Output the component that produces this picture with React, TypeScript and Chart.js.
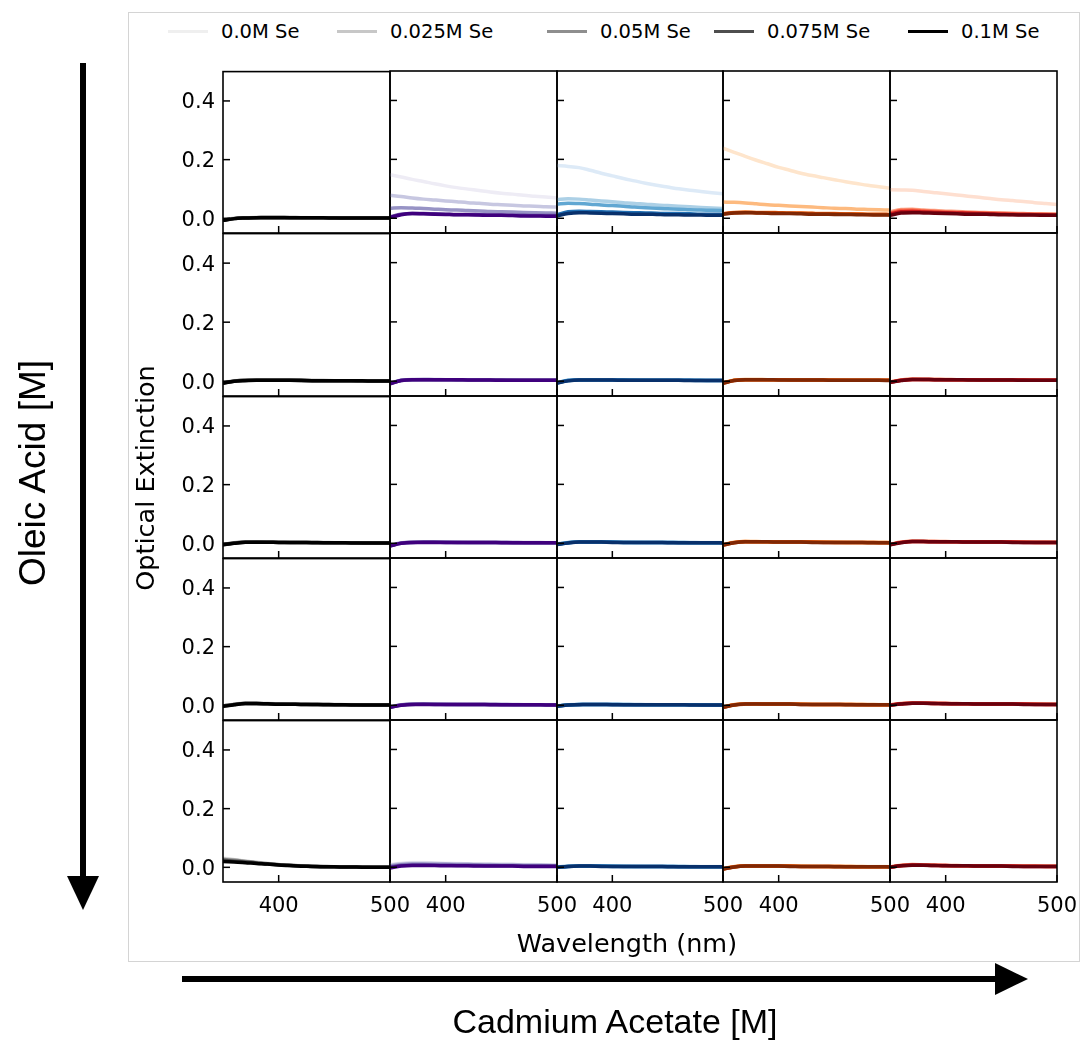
import React, { useEffect, useRef } from 'react';
import { Chart, registerables } from 'chart.js';

Chart.register(...registerables);

// ---------------- data ----------------
const wavelengths = [350, 360, 370, 380, 390, 400, 410, 420, 430, 440, 450, 460, 470, 480, 490, 500];
const seLabels = ['0.0M Se', '0.025M Se', '0.05M Se', '0.075M Se', '0.1M Se'];
const xTicks = [400, 500];
const yTicks = [0, 0.2, 0.4];
const xRange = [350, 500];
const yRange = [-0.05, 0.5];
const columnColormaps = ['Greys', 'Purples', 'Blues', 'Oranges', 'Reds'];
const cmapLevels = [0.13, 0.33, 0.53, 0.76, 1.0];

// Row 1
const r1c1 = [
  [-0.005, 0.000, 0.002, 0.003, 0.003, 0.003, 0.003, 0.003, 0.002, 0.002, 0.002, 0.002, 0.002, 0.001, 0.001, 0.001],
  [-0.006, 0.000, 0.002, 0.003, 0.003, 0.003, 0.002, 0.002, 0.002, 0.002, 0.002, 0.002, 0.001, 0.001, 0.001, 0.001],
  [-0.006, -0.001, 0.002, 0.002, 0.003, 0.003, 0.003, 0.002, 0.002, 0.002, 0.002, 0.001, 0.001, 0.001, 0.001, 0.001],
  [-0.007, -0.001, 0.001, 0.002, 0.003, 0.003, 0.002, 0.002, 0.002, 0.002, 0.002, 0.001, 0.001, 0.001, 0.001, 0.001],
  [-0.007, -0.001, 0.001, 0.002, 0.002, 0.002, 0.002, 0.002, 0.002, 0.002, 0.001, 0.001, 0.001, 0.001, 0.001, 0.001],
];
const r1c2 = [
  [0.148, 0.140, 0.132, 0.125, 0.117, 0.110, 0.104, 0.099, 0.094, 0.089, 0.085, 0.082, 0.078, 0.075, 0.072, 0.069],
  [0.078, 0.074, 0.069, 0.065, 0.062, 0.059, 0.056, 0.053, 0.051, 0.048, 0.046, 0.044, 0.042, 0.041, 0.039, 0.038],
  [0.034, 0.036, 0.035, 0.033, 0.031, 0.029, 0.028, 0.026, 0.025, 0.023, 0.022, 0.021, 0.020, 0.019, 0.018, 0.017],
  [0.005, 0.014, 0.016, 0.016, 0.015, 0.014, 0.013, 0.013, 0.012, 0.011, 0.011, 0.010, 0.010, 0.009, 0.009, 0.009],
  [0.003, 0.012, 0.016, 0.015, 0.014, 0.013, 0.012, 0.012, 0.011, 0.010, 0.010, 0.009, 0.008, 0.008, 0.007, 0.007],
];
const r1c3 = [
  [0.179, 0.176, 0.172, 0.163, 0.153, 0.144, 0.135, 0.127, 0.119, 0.112, 0.106, 0.100, 0.095, 0.091, 0.087, 0.083],
  [0.064, 0.066, 0.065, 0.062, 0.059, 0.056, 0.053, 0.050, 0.048, 0.045, 0.043, 0.041, 0.039, 0.037, 0.035, 0.033],
  [0.048, 0.051, 0.050, 0.048, 0.045, 0.043, 0.041, 0.038, 0.036, 0.034, 0.032, 0.031, 0.029, 0.028, 0.027, 0.026],
  [0.012, 0.022, 0.024, 0.023, 0.022, 0.021, 0.020, 0.019, 0.018, 0.017, 0.016, 0.016, 0.015, 0.014, 0.014, 0.013],
  [0.008, 0.016, 0.019, 0.018, 0.017, 0.016, 0.015, 0.014, 0.014, 0.013, 0.012, 0.012, 0.011, 0.011, 0.010, 0.010],
];
const r1c4 = [
  [0.238, 0.224, 0.210, 0.197, 0.185, 0.173, 0.163, 0.153, 0.145, 0.138, 0.131, 0.124, 0.118, 0.112, 0.107, 0.102],
  [0.055, 0.054, 0.052, 0.049, 0.046, 0.044, 0.042, 0.040, 0.038, 0.036, 0.034, 0.033, 0.031, 0.030, 0.029, 0.028],
  [0.016, 0.020, 0.021, 0.020, 0.020, 0.019, 0.018, 0.018, 0.017, 0.016, 0.016, 0.015, 0.015, 0.014, 0.014, 0.013],
  [0.015, 0.019, 0.020, 0.019, 0.019, 0.018, 0.017, 0.017, 0.016, 0.015, 0.015, 0.014, 0.014, 0.013, 0.013, 0.012],
  [0.014, 0.018, 0.019, 0.018, 0.017, 0.016, 0.016, 0.015, 0.014, 0.014, 0.013, 0.013, 0.012, 0.012, 0.011, 0.011],
];
const r1c5 = [
  [0.097, 0.096, 0.095, 0.091, 0.087, 0.083, 0.079, 0.075, 0.071, 0.067, 0.063, 0.060, 0.057, 0.053, 0.050, 0.047],
  [0.022, 0.030, 0.031, 0.028, 0.026, 0.024, 0.023, 0.021, 0.020, 0.019, 0.018, 0.017, 0.016, 0.015, 0.015, 0.014],
  [0.018, 0.026, 0.027, 0.025, 0.023, 0.021, 0.020, 0.019, 0.018, 0.017, 0.016, 0.015, 0.014, 0.014, 0.013, 0.013],
  [0.014, 0.022, 0.023, 0.021, 0.020, 0.019, 0.018, 0.017, 0.016, 0.015, 0.014, 0.013, 0.013, 0.012, 0.012, 0.011],
  [0.010, 0.018, 0.019, 0.018, 0.017, 0.016, 0.015, 0.014, 0.014, 0.013, 0.012, 0.012, 0.011, 0.011, 0.010, 0.010],
];

// Row 2
const r2c1 = [
  [-0.004, 0.002, 0.003, 0.003, 0.003, 0.003, 0.003, 0.003, 0.003, 0.002, 0.002, 0.002, 0.002, 0.002, 0.002, 0.002],
  [-0.005, 0.001, 0.003, 0.004, 0.004, 0.003, 0.003, 0.003, 0.003, 0.003, 0.002, 0.002, 0.002, 0.002, 0.002, 0.002],
  [-0.006, 0.001, 0.003, 0.003, 0.003, 0.003, 0.003, 0.003, 0.002, 0.002, 0.002, 0.002, 0.002, 0.001, 0.001, 0.001],
  [-0.006, 0.000, 0.003, 0.003, 0.003, 0.003, 0.003, 0.002, 0.002, 0.002, 0.002, 0.002, 0.001, 0.001, 0.001, 0.001],
  [-0.007, 0.000, 0.002, 0.003, 0.003, 0.003, 0.003, 0.003, 0.002, 0.002, 0.002, 0.002, 0.002, 0.001, 0.001, 0.001],
];
const r2c2 = [
  [-0.006, 0.004, 0.006, 0.006, 0.005, 0.005, 0.005, 0.005, 0.005, 0.004, 0.004, 0.004, 0.004, 0.004, 0.004, 0.004],
  [-0.007, 0.003, 0.006, 0.006, 0.006, 0.005, 0.005, 0.005, 0.004, 0.004, 0.004, 0.004, 0.004, 0.003, 0.003, 0.003],
  [-0.008, 0.003, 0.005, 0.006, 0.005, 0.005, 0.005, 0.004, 0.004, 0.004, 0.004, 0.004, 0.003, 0.003, 0.003, 0.003],
  [-0.008, 0.002, 0.005, 0.005, 0.005, 0.005, 0.004, 0.004, 0.004, 0.004, 0.004, 0.003, 0.003, 0.003, 0.003, 0.003],
  [-0.009, 0.002, 0.005, 0.005, 0.005, 0.005, 0.005, 0.004, 0.004, 0.004, 0.003, 0.003, 0.003, 0.003, 0.003, 0.003],
];
const r2c3 = [
  [-0.004, 0.003, 0.005, 0.005, 0.005, 0.004, 0.004, 0.004, 0.004, 0.004, 0.004, 0.003, 0.003, 0.003, 0.003, 0.003],
  [-0.005, 0.003, 0.005, 0.005, 0.004, 0.004, 0.004, 0.004, 0.004, 0.003, 0.003, 0.003, 0.003, 0.003, 0.003, 0.003],
  [-0.005, 0.002, 0.004, 0.005, 0.004, 0.004, 0.004, 0.004, 0.003, 0.003, 0.003, 0.003, 0.003, 0.003, 0.002, 0.002],
  [-0.006, 0.002, 0.004, 0.004, 0.004, 0.004, 0.004, 0.003, 0.003, 0.003, 0.003, 0.003, 0.003, 0.002, 0.002, 0.002],
  [-0.006, 0.001, 0.004, 0.004, 0.004, 0.004, 0.003, 0.003, 0.003, 0.003, 0.003, 0.003, 0.002, 0.002, 0.002, 0.002],
];
const r2c4 = [
  [-0.005, 0.004, 0.006, 0.006, 0.005, 0.005, 0.005, 0.005, 0.004, 0.004, 0.004, 0.004, 0.004, 0.004, 0.003, 0.003],
  [-0.006, 0.003, 0.006, 0.006, 0.005, 0.005, 0.005, 0.005, 0.004, 0.004, 0.004, 0.004, 0.003, 0.003, 0.003, 0.003],
  [-0.006, 0.003, 0.005, 0.005, 0.005, 0.005, 0.005, 0.004, 0.004, 0.004, 0.004, 0.003, 0.003, 0.003, 0.003, 0.003],
  [-0.007, 0.002, 0.005, 0.005, 0.005, 0.005, 0.004, 0.004, 0.004, 0.004, 0.003, 0.003, 0.003, 0.003, 0.003, 0.003],
  [-0.007, 0.002, 0.005, 0.005, 0.005, 0.004, 0.004, 0.004, 0.004, 0.004, 0.003, 0.003, 0.003, 0.003, 0.003, 0.002],
];
const r2c5 = [
  [-0.002, 0.004, 0.007, 0.007, 0.006, 0.006, 0.005, 0.005, 0.005, 0.005, 0.005, 0.004, 0.004, 0.004, 0.004, 0.004],
  [-0.003, 0.004, 0.007, 0.006, 0.006, 0.006, 0.005, 0.005, 0.005, 0.005, 0.004, 0.004, 0.004, 0.004, 0.004, 0.004],
  [-0.003, 0.003, 0.006, 0.006, 0.006, 0.005, 0.005, 0.005, 0.005, 0.004, 0.004, 0.004, 0.004, 0.004, 0.003, 0.003],
  [-0.004, 0.003, 0.006, 0.006, 0.005, 0.005, 0.005, 0.005, 0.004, 0.004, 0.004, 0.004, 0.004, 0.003, 0.003, 0.003],
  [-0.004, 0.002, 0.006, 0.006, 0.005, 0.005, 0.005, 0.004, 0.004, 0.004, 0.004, 0.004, 0.003, 0.003, 0.003, 0.003],
];

// Row 3
const r3c1 = [
  [-0.003, 0.002, 0.005, 0.005, 0.004, 0.004, 0.004, 0.003, 0.003, 0.003, 0.003, 0.002, 0.002, 0.002, 0.002, 0.002],
  [-0.004, 0.002, 0.005, 0.005, 0.004, 0.004, 0.003, 0.003, 0.003, 0.003, 0.002, 0.002, 0.002, 0.002, 0.002, 0.001],
  [-0.004, 0.001, 0.004, 0.005, 0.004, 0.004, 0.003, 0.003, 0.003, 0.002, 0.002, 0.002, 0.002, 0.002, 0.001, 0.001],
  [-0.005, 0.001, 0.004, 0.004, 0.004, 0.003, 0.003, 0.003, 0.003, 0.002, 0.002, 0.002, 0.002, 0.001, 0.001, 0.001],
  [-0.005, 0.000, 0.004, 0.004, 0.004, 0.003, 0.003, 0.003, 0.002, 0.002, 0.002, 0.002, 0.001, 0.001, 0.001, 0.001],
];
const r3c2 = [
  [-0.007, 0.002, 0.004, 0.004, 0.004, 0.004, 0.004, 0.004, 0.004, 0.003, 0.003, 0.003, 0.003, 0.003, 0.003, 0.003],
  [-0.008, 0.001, 0.004, 0.004, 0.004, 0.004, 0.004, 0.003, 0.003, 0.003, 0.003, 0.003, 0.003, 0.003, 0.002, 0.002],
  [-0.008, 0.001, 0.003, 0.004, 0.004, 0.004, 0.003, 0.003, 0.003, 0.003, 0.003, 0.003, 0.002, 0.002, 0.002, 0.002],
  [-0.009, 0.000, 0.003, 0.004, 0.004, 0.003, 0.003, 0.003, 0.003, 0.003, 0.003, 0.002, 0.002, 0.002, 0.002, 0.002],
  [-0.009, 0.000, 0.003, 0.003, 0.003, 0.003, 0.003, 0.003, 0.003, 0.003, 0.002, 0.002, 0.002, 0.002, 0.002, 0.002],
];
const r3c3 = [
  [-0.002, 0.003, 0.005, 0.005, 0.004, 0.004, 0.004, 0.004, 0.003, 0.003, 0.003, 0.003, 0.003, 0.003, 0.003, 0.002],
  [-0.003, 0.003, 0.005, 0.005, 0.004, 0.004, 0.004, 0.003, 0.003, 0.003, 0.003, 0.003, 0.003, 0.002, 0.002, 0.002],
  [-0.003, 0.002, 0.005, 0.004, 0.004, 0.004, 0.003, 0.003, 0.003, 0.003, 0.003, 0.003, 0.002, 0.002, 0.002, 0.002],
  [-0.004, 0.002, 0.004, 0.004, 0.004, 0.004, 0.003, 0.003, 0.003, 0.003, 0.003, 0.002, 0.002, 0.002, 0.002, 0.002],
  [-0.004, 0.001, 0.004, 0.004, 0.004, 0.003, 0.003, 0.003, 0.003, 0.003, 0.002, 0.002, 0.002, 0.002, 0.002, 0.001],
];
const r3c4 = [
  [-0.004, 0.004, 0.006, 0.006, 0.005, 0.005, 0.005, 0.004, 0.004, 0.004, 0.004, 0.004, 0.003, 0.003, 0.003, 0.003],
  [-0.005, 0.003, 0.006, 0.006, 0.005, 0.005, 0.004, 0.004, 0.004, 0.004, 0.004, 0.003, 0.003, 0.003, 0.003, 0.003],
  [-0.005, 0.003, 0.006, 0.005, 0.005, 0.005, 0.004, 0.004, 0.004, 0.004, 0.003, 0.003, 0.003, 0.003, 0.003, 0.002],
  [-0.006, 0.002, 0.005, 0.005, 0.005, 0.004, 0.004, 0.004, 0.004, 0.003, 0.003, 0.003, 0.003, 0.003, 0.002, 0.002],
  [-0.006, 0.002, 0.005, 0.005, 0.005, 0.004, 0.004, 0.004, 0.003, 0.003, 0.003, 0.003, 0.003, 0.002, 0.002, 0.002],
];
const r3c5 = [
  [-0.003, 0.004, 0.007, 0.007, 0.006, 0.006, 0.005, 0.005, 0.005, 0.005, 0.004, 0.004, 0.004, 0.004, 0.004, 0.004],
  [-0.004, 0.004, 0.007, 0.006, 0.006, 0.006, 0.005, 0.005, 0.005, 0.004, 0.004, 0.004, 0.004, 0.004, 0.004, 0.003],
  [-0.004, 0.003, 0.006, 0.006, 0.006, 0.005, 0.005, 0.005, 0.004, 0.004, 0.004, 0.004, 0.004, 0.003, 0.003, 0.003],
  [-0.005, 0.003, 0.006, 0.006, 0.005, 0.005, 0.005, 0.004, 0.004, 0.004, 0.004, 0.004, 0.003, 0.003, 0.003, 0.003],
  [-0.005, 0.002, 0.006, 0.006, 0.005, 0.005, 0.005, 0.004, 0.004, 0.004, 0.004, 0.003, 0.003, 0.003, 0.003, 0.003],
];

// Row 4
const r4c1 = [
  [-0.002, 0.004, 0.007, 0.007, 0.006, 0.005, 0.005, 0.004, 0.004, 0.003, 0.003, 0.003, 0.002, 0.002, 0.002, 0.002],
  [-0.002, 0.004, 0.007, 0.006, 0.006, 0.005, 0.004, 0.004, 0.003, 0.003, 0.003, 0.002, 0.002, 0.002, 0.002, 0.001],
  [-0.003, 0.003, 0.006, 0.006, 0.005, 0.005, 0.004, 0.004, 0.003, 0.003, 0.002, 0.002, 0.002, 0.002, 0.001, 0.001],
  [-0.003, 0.003, 0.006, 0.006, 0.005, 0.004, 0.004, 0.003, 0.003, 0.003, 0.002, 0.002, 0.002, 0.001, 0.001, 0.001],
  [-0.004, 0.002, 0.006, 0.006, 0.005, 0.004, 0.004, 0.003, 0.003, 0.002, 0.002, 0.002, 0.001, 0.001, 0.001, 0.001],
];
const r4c2 = [
  [-0.005, 0.002, 0.004, 0.004, 0.004, 0.004, 0.004, 0.003, 0.003, 0.003, 0.003, 0.003, 0.003, 0.002, 0.002, 0.002],
  [-0.006, 0.002, 0.004, 0.004, 0.004, 0.004, 0.003, 0.003, 0.003, 0.003, 0.003, 0.003, 0.002, 0.002, 0.002, 0.002],
  [-0.006, 0.001, 0.004, 0.004, 0.004, 0.003, 0.003, 0.003, 0.003, 0.003, 0.003, 0.002, 0.002, 0.002, 0.002, 0.002],
  [-0.007, 0.001, 0.003, 0.004, 0.003, 0.003, 0.003, 0.003, 0.003, 0.003, 0.002, 0.002, 0.002, 0.002, 0.002, 0.001],
  [-0.007, 0.000, 0.003, 0.003, 0.003, 0.003, 0.003, 0.003, 0.003, 0.002, 0.002, 0.002, 0.002, 0.002, 0.001, 0.001],
];
const r4c3 = [
  [-0.002, 0.002, 0.003, 0.003, 0.003, 0.003, 0.003, 0.003, 0.003, 0.002, 0.002, 0.002, 0.002, 0.002, 0.002, 0.002],
  [-0.002, 0.002, 0.003, 0.003, 0.003, 0.003, 0.003, 0.003, 0.002, 0.002, 0.002, 0.002, 0.002, 0.002, 0.002, 0.002],
  [-0.003, 0.001, 0.003, 0.003, 0.003, 0.003, 0.003, 0.002, 0.002, 0.002, 0.002, 0.002, 0.002, 0.002, 0.001, 0.001],
  [-0.003, 0.001, 0.003, 0.003, 0.003, 0.003, 0.002, 0.002, 0.002, 0.002, 0.002, 0.002, 0.002, 0.001, 0.001, 0.001],
  [-0.003, 0.001, 0.002, 0.003, 0.003, 0.002, 0.002, 0.002, 0.002, 0.002, 0.002, 0.002, 0.001, 0.001, 0.001, 0.001],
];
const r4c4 = [
  [-0.005, 0.003, 0.005, 0.005, 0.005, 0.004, 0.004, 0.004, 0.004, 0.003, 0.003, 0.003, 0.003, 0.003, 0.003, 0.002],
  [-0.006, 0.002, 0.005, 0.005, 0.005, 0.004, 0.004, 0.004, 0.003, 0.003, 0.003, 0.003, 0.003, 0.003, 0.002, 0.002],
  [-0.006, 0.002, 0.005, 0.005, 0.004, 0.004, 0.004, 0.004, 0.003, 0.003, 0.003, 0.003, 0.003, 0.002, 0.002, 0.002],
  [-0.007, 0.001, 0.004, 0.005, 0.004, 0.004, 0.004, 0.003, 0.003, 0.003, 0.003, 0.003, 0.002, 0.002, 0.002, 0.002],
  [-0.007, 0.001, 0.004, 0.004, 0.004, 0.004, 0.004, 0.003, 0.003, 0.003, 0.003, 0.002, 0.002, 0.002, 0.002, 0.002],
];
const r4c5 = [
  [0.002, 0.006, 0.008, 0.008, 0.007, 0.006, 0.006, 0.005, 0.005, 0.005, 0.005, 0.004, 0.004, 0.004, 0.004, 0.004],
  [0.001, 0.006, 0.008, 0.007, 0.007, 0.006, 0.006, 0.005, 0.005, 0.005, 0.004, 0.004, 0.004, 0.004, 0.004, 0.003],
  [0.001, 0.005, 0.008, 0.007, 0.006, 0.006, 0.005, 0.005, 0.005, 0.004, 0.004, 0.004, 0.004, 0.004, 0.003, 0.003],
  [0.000, 0.005, 0.007, 0.007, 0.006, 0.006, 0.005, 0.005, 0.004, 0.004, 0.004, 0.004, 0.004, 0.003, 0.003, 0.003],
  [0.000, 0.004, 0.007, 0.007, 0.006, 0.005, 0.005, 0.005, 0.004, 0.004, 0.004, 0.004, 0.003, 0.003, 0.003, 0.003],
];

// Row 5
const r5c1 = [
  [0.032, 0.027, 0.022, 0.017, 0.013, 0.010, 0.007, 0.005, 0.004, 0.003, 0.002, 0.002, 0.001, 0.001, 0.001, 0.000],
  [0.030, 0.026, 0.021, 0.017, 0.013, 0.010, 0.007, 0.005, 0.004, 0.003, 0.002, 0.002, 0.001, 0.001, 0.000, 0.000],
  [0.027, 0.024, 0.020, 0.016, 0.012, 0.009, 0.007, 0.005, 0.004, 0.003, 0.002, 0.001, 0.001, 0.001, 0.000, 0.000],
  [0.024, 0.021, 0.018, 0.015, 0.011, 0.009, 0.006, 0.005, 0.003, 0.002, 0.002, 0.001, 0.001, 0.000, 0.000, 0.000],
  [0.020, 0.018, 0.016, 0.013, 0.011, 0.008, 0.006, 0.004, 0.003, 0.002, 0.002, 0.001, 0.001, 0.000, 0.000, 0.000],
];
const r5c2 = [
  [0.009, 0.014, 0.016, 0.016, 0.015, 0.014, 0.013, 0.012, 0.012, 0.011, 0.010, 0.010, 0.009, 0.009, 0.008, 0.008],
  [0.007, 0.012, 0.014, 0.014, 0.013, 0.012, 0.011, 0.011, 0.010, 0.010, 0.009, 0.009, 0.008, 0.008, 0.007, 0.007],
  [0.004, 0.009, 0.011, 0.011, 0.010, 0.010, 0.009, 0.009, 0.008, 0.008, 0.007, 0.007, 0.006, 0.006, 0.006, 0.005],
  [0.001, 0.006, 0.008, 0.008, 0.007, 0.007, 0.006, 0.006, 0.006, 0.005, 0.005, 0.005, 0.004, 0.004, 0.004, 0.004],
  [-0.002, 0.004, 0.006, 0.006, 0.006, 0.005, 0.005, 0.005, 0.004, 0.004, 0.004, 0.004, 0.003, 0.003, 0.003, 0.003],
];
const r5c3 = [
  [0.002, 0.004, 0.005, 0.005, 0.004, 0.004, 0.004, 0.004, 0.003, 0.003, 0.003, 0.003, 0.003, 0.003, 0.003, 0.002],
  [0.001, 0.004, 0.005, 0.004, 0.004, 0.004, 0.004, 0.003, 0.003, 0.003, 0.003, 0.003, 0.003, 0.002, 0.002, 0.002],
  [0.001, 0.003, 0.004, 0.004, 0.004, 0.004, 0.003, 0.003, 0.003, 0.003, 0.003, 0.003, 0.002, 0.002, 0.002, 0.002],
  [0.000, 0.003, 0.004, 0.004, 0.004, 0.003, 0.003, 0.003, 0.003, 0.003, 0.003, 0.002, 0.002, 0.002, 0.002, 0.002],
  [0.000, 0.003, 0.004, 0.004, 0.003, 0.003, 0.003, 0.003, 0.003, 0.003, 0.002, 0.002, 0.002, 0.002, 0.002, 0.002],
];
const r5c4 = [
  [-0.004, 0.003, 0.005, 0.005, 0.005, 0.004, 0.004, 0.004, 0.004, 0.003, 0.003, 0.003, 0.003, 0.003, 0.003, 0.002],
  [-0.005, 0.002, 0.005, 0.005, 0.004, 0.004, 0.004, 0.004, 0.003, 0.003, 0.003, 0.003, 0.003, 0.002, 0.002, 0.002],
  [-0.005, 0.002, 0.005, 0.005, 0.004, 0.004, 0.004, 0.003, 0.003, 0.003, 0.003, 0.003, 0.002, 0.002, 0.002, 0.002],
  [-0.006, 0.001, 0.004, 0.004, 0.004, 0.004, 0.004, 0.003, 0.003, 0.003, 0.003, 0.002, 0.002, 0.002, 0.002, 0.002],
  [-0.006, 0.001, 0.004, 0.004, 0.004, 0.004, 0.003, 0.003, 0.003, 0.003, 0.002, 0.002, 0.002, 0.002, 0.002, 0.001],
];
const r5c5 = [
  [0.002, 0.007, 0.009, 0.008, 0.007, 0.006, 0.006, 0.005, 0.005, 0.005, 0.005, 0.005, 0.004, 0.004, 0.004, 0.004],
  [0.001, 0.006, 0.009, 0.008, 0.007, 0.006, 0.006, 0.005, 0.005, 0.005, 0.004, 0.004, 0.004, 0.004, 0.004, 0.004],
  [0.001, 0.006, 0.008, 0.007, 0.007, 0.006, 0.005, 0.005, 0.005, 0.004, 0.004, 0.004, 0.004, 0.004, 0.003, 0.003],
  [0.000, 0.005, 0.008, 0.007, 0.006, 0.006, 0.005, 0.005, 0.004, 0.004, 0.004, 0.004, 0.003, 0.003, 0.003, 0.003],
  [0.000, 0.005, 0.007, 0.007, 0.006, 0.005, 0.005, 0.005, 0.004, 0.004, 0.004, 0.003, 0.003, 0.003, 0.003, 0.003],
];

const panelData = [
  [r1c1, r1c2, r1c3, r1c4, r1c5],
  [r2c1, r2c2, r2c3, r2c4, r2c5],
  [r3c1, r3c2, r3c3, r3c4, r3c5],
  [r4c1, r4c2, r4c3, r4c4, r4c5],
  [r5c1, r5c2, r5c3, r5c4, r5c5],
];

// ---------------- styles ----------------
const CMAP_STOPS: Record<string, string[]> = {
  Greys: ['#ffffff', '#f0f0f0', '#d9d9d9', '#bdbdbd', '#969696', '#737373', '#525252', '#252525', '#000000'],
  Purples: ['#fcfbfd', '#efedf5', '#dadaeb', '#bcbddc', '#9e9ac8', '#807dba', '#6a51a3', '#54278f', '#3f007d'],
  Blues: ['#f7fbff', '#deebf7', '#c6dbef', '#9ecae1', '#6baed6', '#4292c6', '#2171b5', '#08519c', '#08306b'],
  Oranges: ['#fff5eb', '#fee6ce', '#fdd0a2', '#fdae6b', '#fd8d3c', '#f16913', '#d94801', '#a63603', '#7f2704'],
  Reds: ['#fff5f0', '#fee0d2', '#fcbba1', '#fc9272', '#fb6a4a', '#ef3b2c', '#cb181d', '#a50f15', '#67000d'],
};

function hexToRgb(h: string) {
  return [parseInt(h.slice(1, 3), 16), parseInt(h.slice(3, 5), 16), parseInt(h.slice(5, 7), 16)];
}
function cmap(name: string, t: number) {
  const stops = CMAP_STOPS[name];
  const p = Math.min(Math.max(t, 0), 1) * (stops.length - 1);
  const i = Math.min(Math.floor(p), stops.length - 2);
  const f = p - i;
  const a = hexToRgb(stops[i]);
  const b = hexToRgb(stops[i + 1]);
  const c = a.map((v, k) => Math.round(v + (b[k] - v) * f));
  return `rgb(${c[0]},${c[1]},${c[2]})`;
}

const COL_EDGES = [223, 390, 557, 723, 890, 1057];
const ROW_EDGES = [71, 233, 396, 558, 720, 882];
const PAD_L = 60;
const PAD_R = 40;
const PAD_T = 20;
const PAD_B = 40;
const TICK_FONT = { family: 'DejaVu Sans', size: 21 };

const framePlugin = {
  id: 'panelFrame',
  afterDraw(chart: any) {
    const { ctx, chartArea: a, scales } = chart;
    ctx.save();
    ctx.strokeStyle = '#000';
    ctx.lineWidth = 1.6;
    ctx.strokeRect(a.left, a.top, a.right - a.left, a.bottom - a.top);
    ctx.lineWidth = 1.5;
    scales.x.ticks.forEach((t: any) => {
      const px = scales.x.getPixelForValue(t.value);
      ctx.beginPath();
      ctx.moveTo(px, a.bottom);
      ctx.lineTo(px, a.bottom - 7);
      ctx.stroke();
    });
    scales.y.ticks.forEach((t: any) => {
      const py = scales.y.getPixelForValue(t.value);
      ctx.beginPath();
      ctx.moveTo(a.left, py);
      ctx.lineTo(a.left + 7, py);
      ctx.stroke();
    });
    ctx.restore();
  },
};

function Panel({ row, col }: { row: number; col: number }) {
  const ref = useRef<HTMLCanvasElement>(null);
  const pw = COL_EDGES[col + 1] - COL_EDGES[col];
  const ph = ROW_EDGES[row + 1] - ROW_EDGES[row];
  const cw = pw + PAD_L + PAD_R;
  const ch = ph + PAD_T + PAD_B;
  useEffect(() => {
    const series = panelData[row][col];
    const cm = columnColormaps[col];
    const chart = new Chart(ref.current as HTMLCanvasElement, {
      type: 'line',
      data: {
        datasets: series.map((vals, i) => ({
          label: seLabels[i],
          data: vals.map((v, k) => ({ x: wavelengths[k], y: v })),
          borderColor: cmap(cm, cmapLevels[i]),
          borderWidth: 3.5,
          pointRadius: 0,
          order: series.length - i,
          cubicInterpolationMode: 'monotone' as const,
          fill: false,
        })),
      },
      options: {
        animation: false,
        responsive: false,
        maintainAspectRatio: false,
        events: [],
        layout: { padding: { top: PAD_T, right: PAD_R, left: 0, bottom: 0 } },
        plugins: { legend: { display: false }, tooltip: { enabled: false }, title: { display: false } },
        scales: {
          x: {
            type: 'linear',
            min: xRange[0],
            max: xRange[1],
            afterBuildTicks: (s: any) => { s.ticks = xTicks.map((v) => ({ value: v })); },
            afterFit: (s: any) => { s.height = PAD_B; },
            grid: { display: false, drawTicks: false },
            border: { display: false },
            ticks: {
              display: row === 4,
              font: TICK_FONT,
              color: '#000',
              padding: 12,
              maxRotation: 0,
              autoSkip: false,
              callback: (v: any) => String(v),
            },
          },
          y: {
            type: 'linear',
            min: yRange[0],
            max: yRange[1],
            afterBuildTicks: (s: any) => { s.ticks = yTicks.map((v) => ({ value: v })); },
            afterFit: (s: any) => { s.width = PAD_L; },
            grid: { display: false, drawTicks: false },
            border: { display: false },
            ticks: {
              display: col === 0,
              font: TICK_FONT,
              color: '#000',
              padding: 8,
              labelOffset: 2,
              autoSkip: false,
              callback: (v: any) => Number(v).toFixed(1),
            },
          },
        },
      } as any,
      plugins: [framePlugin],
    });
    return () => chart.destroy();
  }, [row, col]);
  return (
    <canvas
      ref={ref}
      width={cw}
      height={ch}
      style={{
        position: 'absolute',
        left: COL_EDGES[col] - PAD_L,
        top: ROW_EDGES[row] - PAD_T,
        width: cw,
        height: ch,
      }}
    />
  );
}

const legendLineStarts = [168, 337, 547, 714, 908];

export default function App() {
  const cells: React.ReactNode[] = [];
  for (let r = 0; r < 5; r++) {
    for (let c = 0; c < 5; c++) {
      cells.push(<Panel key={`${r}-${c}`} row={r} col={c} />);
    }
  }
  return (
    <div
      style={{
        position: 'absolute',
        left: 0,
        top: 0,
        width: 1081,
        height: 1040,
        background: '#fff',
        overflow: 'hidden',
        fontFamily: 'DejaVu Sans',
      }}
    >
      <div
        style={{
          position: 'absolute',
          left: 128,
          top: 12,
          width: 952,
          height: 950,
          border: '1px solid #d4d4d4',
          boxSizing: 'border-box',
        }}
      />
      {seLabels.map((lab, i) => (
        <React.Fragment key={lab}>
          <div
            style={{
              position: 'absolute',
              left: legendLineStarts[i],
              top: 30,
              width: 40,
              height: 3,
              background: cmap('Greys', cmapLevels[i]),
            }}
          />
          <div
            style={{
              position: 'absolute',
              left: legendLineStarts[i] + 53,
              top: 20,
              fontSize: 19.5,
              lineHeight: '24px',
              color: '#000',
              whiteSpace: 'nowrap',
            }}
          >
            {lab}
          </div>
        </React.Fragment>
      ))}
      {cells}
      <div
        style={{
          position: 'absolute',
          left: 145,
          top: 478,
          transform: 'translate(-50%, -50%) rotate(-90deg)',
          fontSize: 25.5,
          whiteSpace: 'nowrap',
          color: '#000',
        }}
      >
        Optical Extinction
      </div>
      <div
        style={{
          position: 'absolute',
          left: 627,
          top: 943,
          transform: 'translate(-50%, -50%)',
          fontSize: 25.5,
          whiteSpace: 'nowrap',
          color: '#000',
        }}
      >
        Wavelength (nm)
      </div>
      <svg
        width={1081}
        height={1040}
        style={{ position: 'absolute', left: 0, top: 0, pointerEvents: 'none' }}
      >
        <line x1={83} y1={63} x2={83} y2={880} stroke="#000" strokeWidth={6} />
        <polygon points="67,876 99,876 83,910" fill="#000" />
        <line x1={182} y1={979} x2={998} y2={979} stroke="#000" strokeWidth={6} />
        <polygon points="995,963 995,995 1028,979" fill="#000" />
      </svg>
      <div
        style={{
          position: 'absolute',
          left: 33,
          top: 473,
          transform: 'translate(-50%, -50%) rotate(-90deg)',
          fontSize: 37,
          fontFamily: '"Liberation Sans", Arial, sans-serif',
          whiteSpace: 'nowrap',
          color: '#000',
        }}
      >
        Oleic Acid [M]
      </div>
      <div
        style={{
          position: 'absolute',
          left: 615,
          top: 1021,
          transform: 'translate(-50%, -50%)',
          fontSize: 34,
          fontFamily: '"Liberation Sans", Arial, sans-serif',
          whiteSpace: 'nowrap',
          color: '#000',
        }}
      >
        Cadmium Acetate [M]
      </div>
    </div>
  );
}
